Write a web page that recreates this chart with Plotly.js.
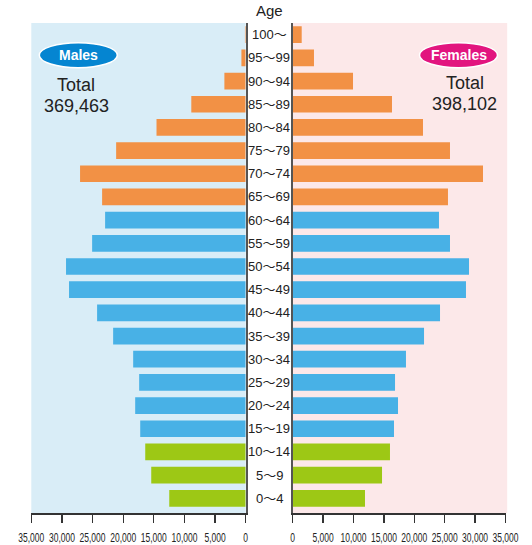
<!DOCTYPE html>
<html>
<head>
<meta charset="utf-8">
<script src="https://cdn.plot.ly/plotly-3.0.1.min.js"></script>
<style>html,body{margin:0;padding:0;background:#fff;}#chart{width:532px;height:545px;}</style>
</head>
<body>
<div id="chart"></div>
<script>
// Age groups, bottom to top
const ages = ["0〜4","5〜9","10〜14","15〜19","20〜24","25〜29","30〜34","35〜39","40〜44","45〜49","50〜54","55〜59","60〜64","65〜69","70〜74","75〜79","80〜84","85〜89","90〜94","95〜99","100〜"];
const ageStart = [0,5,10,15,20,25,30,35,40,45,50,55,60,65,70,75,80,85,90,95,100];
const males   = [12480,15420,16400,17220,18040,17390,18370,21640,24260,28840,29330,25070,22950,23440,27040,21150,14560,8880,3480,700,120];
const females = [11890,14690,16000,16660,17320,16830,18630,21600,24230,28500,29000,25870,24060,25540,31300,25870,21430,16330,9920,3500,1480];
const tickValues = [0,5000,10000,15000,20000,25000,30000,35000];
const maleTotal = "369,463";
const femaleTotal = "398,102";

const cYoung = "#9dc815", cWork = "#48b1e6", cOld = "#f29145";
const colors = ageStart.map(a => a < 15 ? cYoung : (a < 65 ? cWork : cOld));

const W = 532, plotTop = 23, plotBottom = 513, plotH = plotBottom - plotTop;
const px = x => x / W;
const py = y => (plotBottom - y) / plotH;

const tickFont = {family: "Liberation Sans, Arial, sans-serif", size: 12.5, color: "#222"};
const labelFont = {family: "Liberation Sans, Noto Sans CJK JP, sans-serif", size: 13, color: "#222"};

const traces = [
  {type: "bar", orientation: "h", x: males, y: ages, xaxis: "x", yaxis: "y",
   marker: {color: colors, line: {width: 0}}, hoverinfo: "x+y"},
  {type: "bar", orientation: "h", x: females, y: ages, xaxis: "x2", yaxis: "y2",
   marker: {color: colors, line: {width: 0}}, hoverinfo: "x+y"}
];

const xCommon = {
  tickvals: tickValues, tickformat: ",", ticks: "outside", ticklen: 8, tickwidth: 1.3,
  tickcolor: "#333", showline: true, linecolor: "#333", linewidth: 2, tickangle: 0,
  showgrid: false, zeroline: false, tickfont: tickFont, automargin: false,
  fixedrange: true, ticklabelstandoff: 4
};

const annotations = ages.map(a => ({
  text: a, x: px(269.2), xref: "paper", y: a, yref: "y",
  showarrow: false, xanchor: "center", yanchor: "middle", font: labelFont
}));
annotations.push(
  {text: "Age", x: px(269), xref: "paper", y: py(11), yref: "paper", showarrow: false,
   xanchor: "center", yanchor: "middle", font: {family: "Liberation Sans, sans-serif", size: 15, color: "#222"}},
  {text: "Males", x: px(78.3), xref: "paper", y: py(55), yref: "paper", showarrow: false,
   xanchor: "center", yanchor: "middle", font: {family: "Liberation Sans, sans-serif", size: 14, color: "#fff", weight: "bold"}},
  {text: "Females", x: px(458.5), xref: "paper", y: py(55), yref: "paper", showarrow: false,
   xanchor: "center", yanchor: "middle", font: {family: "Liberation Sans, sans-serif", size: 14, color: "#fff", weight: "bold"}},
  {text: "Total", x: px(76), xref: "paper", y: py(85), yref: "paper", showarrow: false,
   xanchor: "center", yanchor: "middle", font: {family: "Liberation Sans, sans-serif", size: 18, color: "#222"}},
  {text: maleTotal, x: px(76), xref: "paper", y: py(106), yref: "paper", showarrow: false,
   xanchor: "center", yanchor: "middle", font: {family: "Liberation Sans, sans-serif", size: 18, color: "#222"}},
  {text: "Total", x: px(464.5), xref: "paper", y: py(83), yref: "paper", showarrow: false,
   xanchor: "center", yanchor: "middle", font: {family: "Liberation Sans, sans-serif", size: 18, color: "#222"}},
  {text: femaleTotal, x: px(464.5), xref: "paper", y: py(104), yref: "paper", showarrow: false,
   xanchor: "center", yanchor: "middle", font: {family: "Liberation Sans, sans-serif", size: 18, color: "#222"}}
);

const layout = {
  width: 532, height: 545,
  margin: {l: 0, r: 0, t: plotTop, b: 545 - plotBottom, pad: 0},
  paper_bgcolor: "#fff", plot_bgcolor: "rgba(0,0,0,0)",
  showlegend: false, bargap: 0.28,
  xaxis: Object.assign({}, xCommon, {domain: [px(31.3), px(245.7)], range: [35000, 0], anchor: "y"}),
  xaxis2: Object.assign({}, xCommon, {domain: [px(292.7), px(505.5)], range: [0, 35000], anchor: "y2"}),
  yaxis: {type: "category", categoryorder: "array", categoryarray: ages, range: [-0.634, 20.504],
          anchor: "x", side: "right", showline: true, linecolor: "#555", linewidth: 2,
          showticklabels: false, ticks: "", showgrid: false, zeroline: false, fixedrange: true},
  yaxis2: {type: "category", categoryorder: "array", categoryarray: ages, range: [-0.634, 20.504],
          anchor: "x2", side: "left", showline: true, linecolor: "#555", linewidth: 2,
          showticklabels: false, ticks: "", showgrid: false, zeroline: false, fixedrange: true},
  shapes: [
    {type: "rect", xref: "x domain", yref: "y domain", x0: 0, x1: 1, y0: 0, y1: 1,
     fillcolor: "#d9edf7", line: {width: 0}, layer: "below"},
    {type: "rect", xref: "x2 domain", yref: "y2 domain", x0: 0, x1: 1.008, y0: 0, y1: 1,
     fillcolor: "#fce8e9", line: {width: 0}, layer: "below"},
    {type: "circle", xref: "paper", yref: "paper", x0: px(39.3), x1: px(117.3), y0: py(67.7), y1: py(42.7),
     fillcolor: "#0585d1", line: {color: "#fff", width: 1.5}, layer: "above"},
    {type: "circle", xref: "paper", yref: "paper", x0: px(419.5), x1: px(497.5), y0: py(67.7), y1: py(42.7),
     fillcolor: "#e2157f", line: {color: "#fff", width: 1.5}, layer: "above"}
  ],
  annotations: annotations
};

// Condense the tick labels horizontally (the reference uses a narrow typeface).
function condenseTicks() {
  document.querySelectorAll("g.xtick text, g.x2tick text").forEach(t => {
    const x = parseFloat(t.getAttribute("x")) || 0;
    const y = parseFloat(t.getAttribute("y")) || 0;
    const base = t.getAttribute("data-base-transform") ?? (t.getAttribute("transform") || "");
    t.setAttribute("data-base-transform", base);
    t.setAttribute("transform", base + " translate(" + x + "," + y + ") scale(0.68,1) translate(" + (-x) + "," + (-y) + ")");
  });
}

Plotly.newPlot("chart", traces, layout, {displayModeBar: false, staticPlot: true}).then(condenseTicks);
</script>
</body>
</html>
